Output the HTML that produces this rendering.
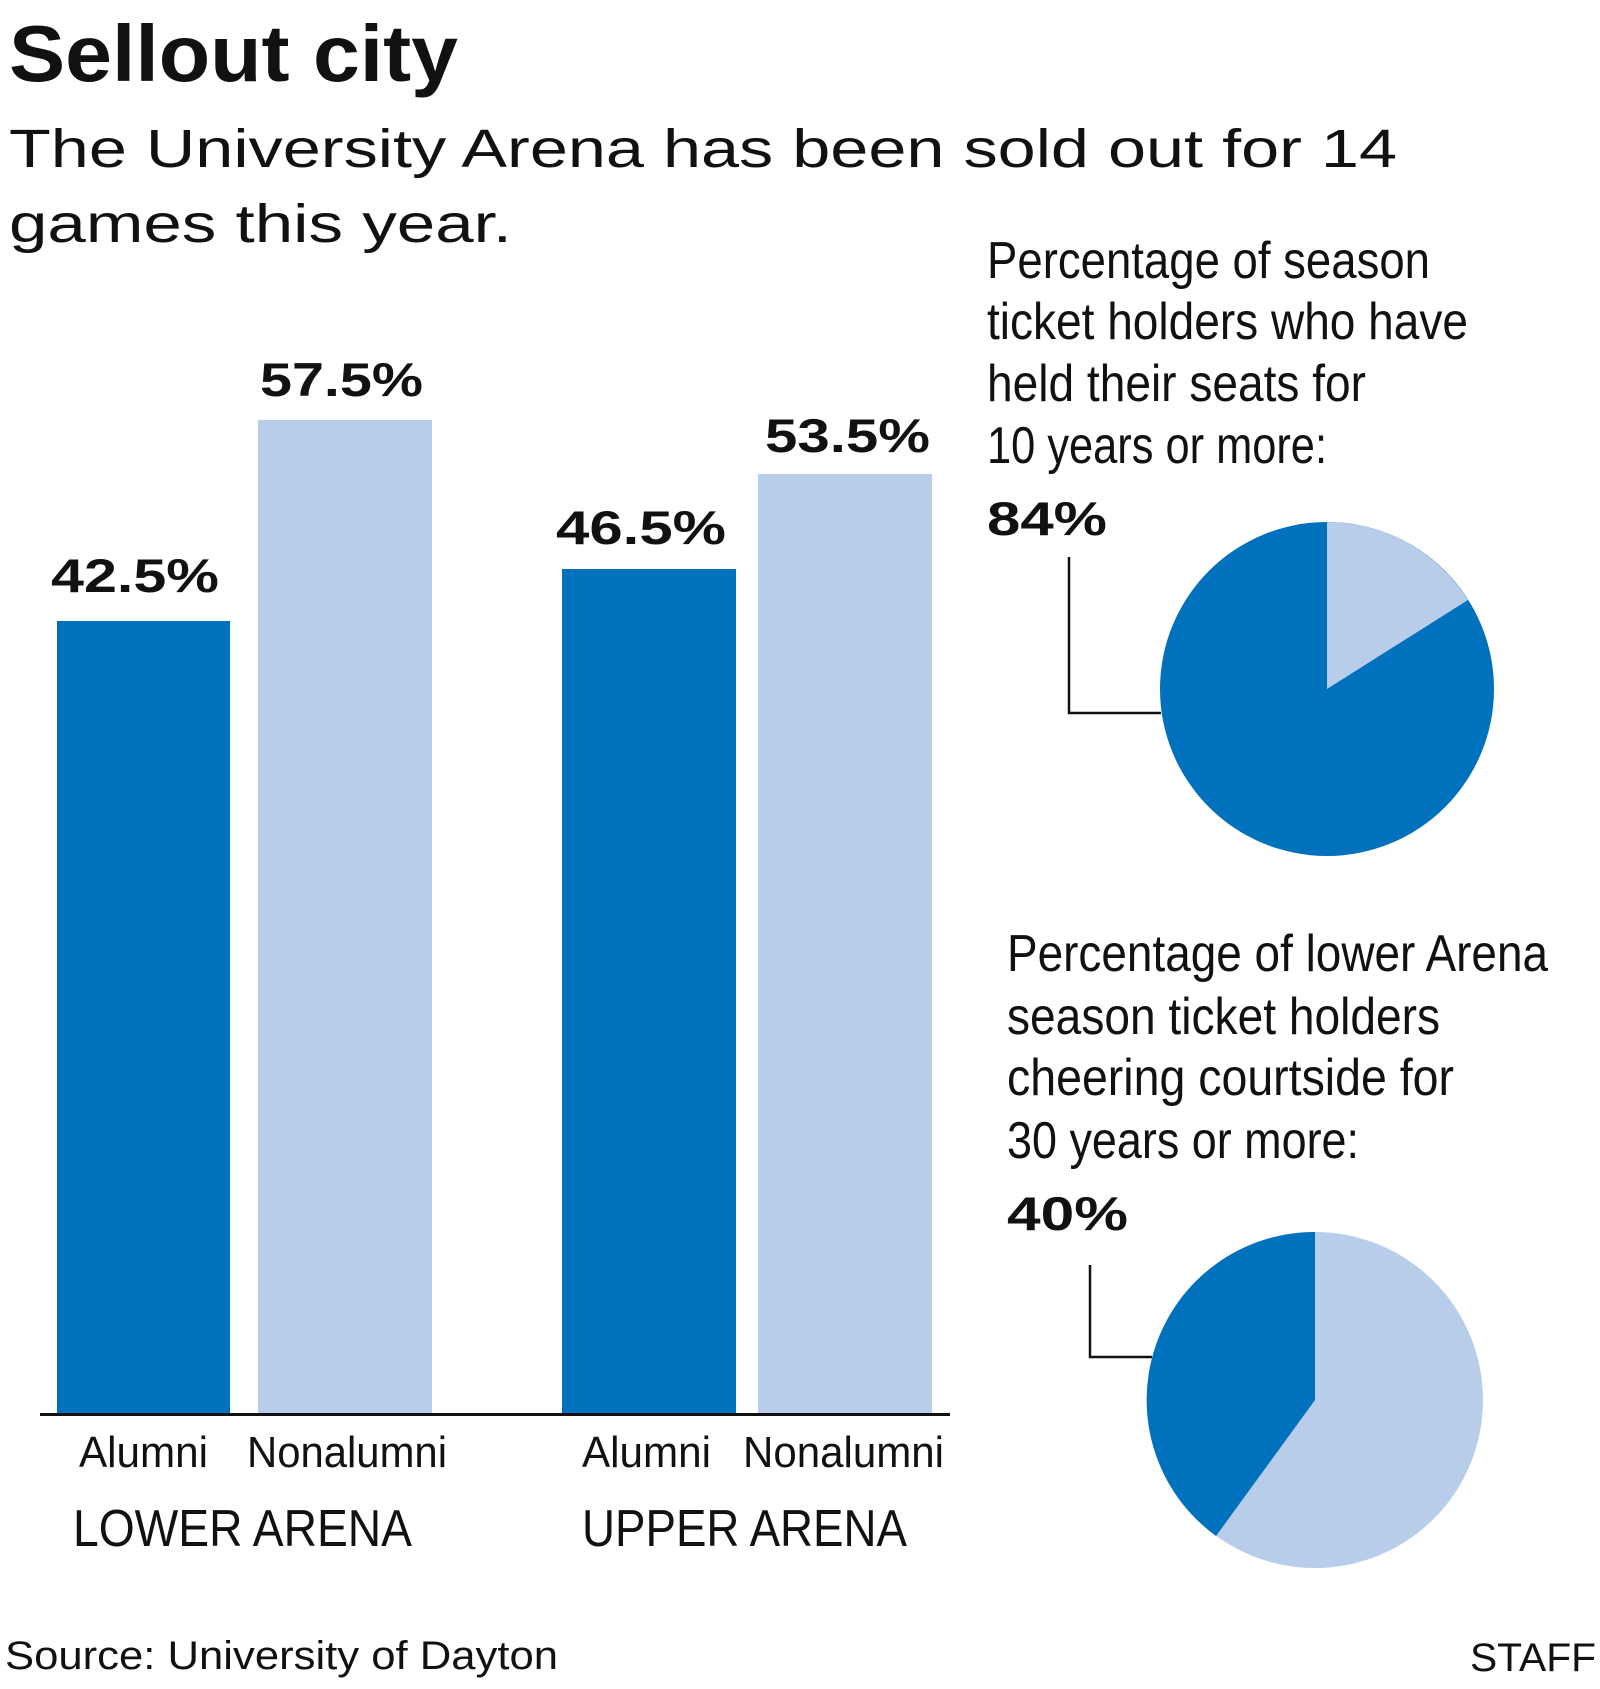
<!DOCTYPE html>
<html><head><meta charset="utf-8"><style>html,body{margin:0;padding:0;background:#fff}svg{display:block}</style></head><body>
<svg width="1600" height="1689" viewBox="0 0 1600 1689" xmlns="http://www.w3.org/2000/svg" font-family="Liberation Sans, sans-serif" fill="#111">
<text x="9" y="81" font-size="80" font-weight="bold" textLength="449" lengthAdjust="spacingAndGlyphs">Sellout city</text>
<text x="9" y="167" font-size="54" textLength="1388" lengthAdjust="spacingAndGlyphs">The University Arena has been sold out for 14</text>
<text x="9" y="242" font-size="54" textLength="503" lengthAdjust="spacingAndGlyphs">games this year.</text>
<rect x="57" y="621" width="173" height="793" fill="#0071bc"/>
<rect x="258" y="420" width="174" height="994" fill="#b8cde9"/>
<rect x="562" y="569" width="174" height="845" fill="#0071bc"/>
<rect x="758" y="474" width="174" height="940" fill="#b8cde9"/>
<rect x="40" y="1413" width="910" height="3" fill="#111"/>
<g font-size="47" font-weight="bold">
<text x="51" y="592" textLength="168" lengthAdjust="spacingAndGlyphs">42.5%</text>
<text x="260" y="396" textLength="163" lengthAdjust="spacingAndGlyphs">57.5%</text>
<text x="556" y="544" textLength="170" lengthAdjust="spacingAndGlyphs">46.5%</text>
<text x="765" y="452" textLength="165" lengthAdjust="spacingAndGlyphs">53.5%</text>
</g>
<g font-size="44">
<text x="79" y="1467" textLength="129" lengthAdjust="spacingAndGlyphs">Alumni</text>
<text x="247" y="1467" textLength="200" lengthAdjust="spacingAndGlyphs">Nonalumni</text>
<text x="582" y="1467" textLength="129" lengthAdjust="spacingAndGlyphs">Alumni</text>
<text x="743" y="1467" textLength="201" lengthAdjust="spacingAndGlyphs">Nonalumni</text>
</g>
<g font-size="52">
<text x="73" y="1546" textLength="339" lengthAdjust="spacingAndGlyphs">LOWER ARENA</text>
<text x="582" y="1546" textLength="325" lengthAdjust="spacingAndGlyphs">UPPER ARENA</text>
</g>
<text x="5" y="1669" font-size="40" textLength="553" lengthAdjust="spacingAndGlyphs">Source: University of Dayton</text>
<text x="1470" y="1671" font-size="40" textLength="126" lengthAdjust="spacingAndGlyphs">STAFF</text>
<g font-size="52">
<text x="987" y="278" textLength="443" lengthAdjust="spacingAndGlyphs">Percentage of season</text>
<text x="987" y="339" textLength="481" lengthAdjust="spacingAndGlyphs">ticket holders who have</text>
<text x="987" y="401" textLength="379" lengthAdjust="spacingAndGlyphs">held their seats for</text>
<text x="987" y="463" textLength="340" lengthAdjust="spacingAndGlyphs">10 years or more:</text>
<text x="1007" y="971" textLength="541" lengthAdjust="spacingAndGlyphs">Percentage of lower Arena</text>
<text x="1007" y="1034" textLength="433" lengthAdjust="spacingAndGlyphs">season ticket holders</text>
<text x="1007" y="1095" textLength="447" lengthAdjust="spacingAndGlyphs">cheering courtside for</text>
<text x="1007" y="1158" textLength="352" lengthAdjust="spacingAndGlyphs">30 years or more:</text>
</g>
<text x="987" y="535" font-size="47" font-weight="bold" textLength="120" lengthAdjust="spacingAndGlyphs">84%</text>
<text x="1007" y="1230" font-size="47" font-weight="bold" textLength="121" lengthAdjust="spacingAndGlyphs">40%</text>
<circle cx="1327" cy="689" r="167" fill="#0071bc"/>
<path d="M1327,689 L1327,522 A167,167 0 0 1 1468,600 Z" fill="#b8cde9"/>
<circle cx="1315" cy="1400" r="168" fill="#b8cde9"/>
<path d="M1315,1400 L1315,1232 A168,168 0 0 0 1216,1536 Z" fill="#0071bc"/>
<path d="M1069,557 V713 H1161" fill="none" stroke="#111" stroke-width="2.5"/>
<path d="M1090,1265 V1357 H1152" fill="none" stroke="#111" stroke-width="2.5"/>
</svg>
</body></html>
